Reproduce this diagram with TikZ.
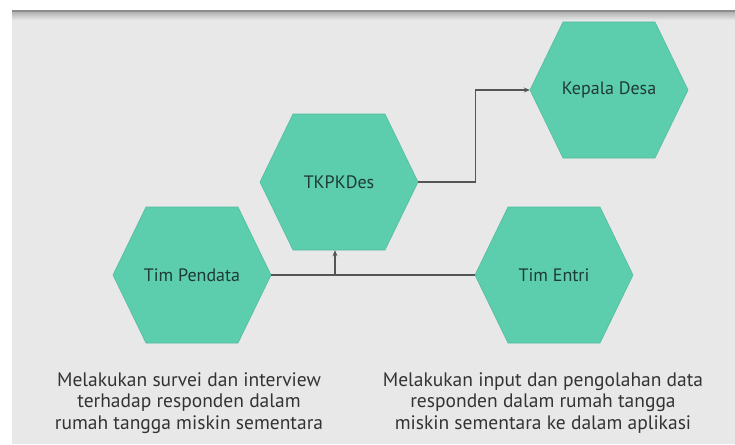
\documentclass[tikz,border=0pt]{standalone}
\usepackage{fontspec}
\setmainfont{PT Sans}
\usetikzlibrary{arrows.meta}
\definecolor{hexfill}{HTML}{5CCDAD}
\definecolor{hexedge}{HTML}{52BE9F}
\definecolor{panel}{HTML}{E8E8E8}
\definecolor{hextext}{HTML}{1E3B35}
\definecolor{linec}{HTML}{555555}
\newcommand\hexnode[3]{%
  \filldraw[fill=hexfill,draw=hexedge,line width=0.6pt] (#2) +(-79,0) -- +(-46,-68) -- +(46,-68) -- +(79,0) -- +(46,68) -- +(-46,68) -- cycle;
  \node[hexbox] (#1) at (#2) {#3};}
\begin{document}
\begin{tikzpicture}[x=1pt,y=-1pt,
  hexbox/.style={minimum width=158pt,minimum height=136pt,inner sep=0pt,text=hextext,font=\fontsize{18}{20}\selectfont},
  conn/.style={draw=linec,line width=1.2pt},
  caption/.style={align=center,text=black!80,font=\fontsize{19.5}{21.5}\selectfont}]
\useasboundingbox (0,0) rectangle (735,444);
\fill[white] (0,0) rectangle (735,444);
\fill[panel] (12,11) rectangle (735,444);
\shade[top color=black!30, bottom color=panel] (12,12) rectangle (735,20);
\draw[black!45,line width=2.5pt] (12,11) -- (735,11);

\hexnode{kd}{609,90}{Kepala Desa}
\hexnode{tk}{339,182}{TKPKDes}
\hexnode{tp}{192,275}{Tim Pendata}
\hexnode{te}{554,275}{Tim Entri}

\draw[conn] (tp.east) -- (te.west);
\coordinate (j) at (335,275);
\draw[conn,-{Stealth[length=6pt,width=5pt]}] (j) -- (j |- tk.south);
\draw[conn,-{Stealth[length=6pt,width=5pt]}] (tk.east) -- ++(57,0) |- (kd.west);

\node[caption] (c1) at (189,403) {Melakukan survei dan interview\\terhadap responden dalam\\rumah tangga miskin sementara};
\node[caption] (c2) at (543,403) {Melakukan input dan pengolahan data\\responden dalam rumah tangga\\miskin sementara ke dalam aplikasi};
\end{tikzpicture}
\end{document}
